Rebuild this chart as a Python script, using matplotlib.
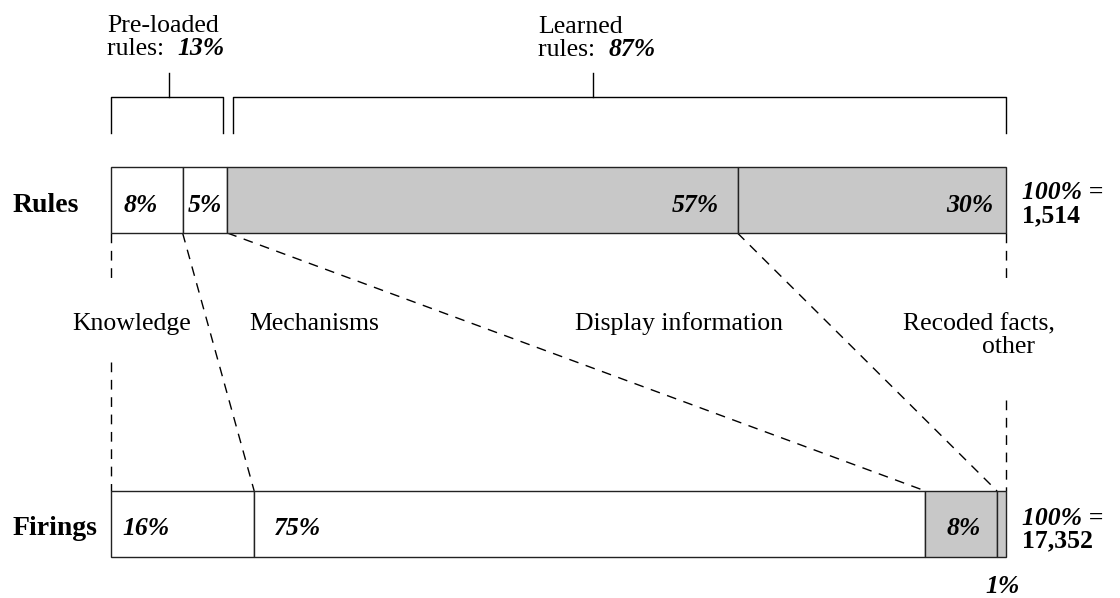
import matplotlib
matplotlib.use("Agg")
import matplotlib.pyplot as plt
import numpy as np

plt.rcParams['font.family'] = ['Liberation Serif', 'DejaVu Serif']

# data (percent shares)
rules = [8, 5, 57, 30]
firings = [16, 75, 8, 1]
rules_total = "1,514"
firings_total = "17,352"
categories = ["Knowledge", "Mechanisms", "Display information", "Recoded facts,\nother"]
seg_colors = ["white", "white", "#c8c8c8", "#c8c8c8"]
preloaded = rules[0] + rules[1]
learned = 100 - preloaded

fig = plt.figure(figsize=(11.2, 5.98), dpi=100)
ax = fig.add_axes([0, 0, 1, 1])
# x in percent of bar, y in rows from the top
ax.set_xlim(-111 / 8.95, (1120 - 111) / 8.95)
ax.set_ylim(598, 0)
ax.axis('off')

ry, fy, bh = 200, 524, 66
rl = np.concatenate([[0], np.cumsum(rules)[:-1]])
fl = np.concatenate([[0], np.cumsum(firings)[:-1]])
ax.barh(ry, rules, left=rl, height=bh, color=seg_colors, edgecolor='#222', linewidth=1, zorder=3)
ax.barh(fy, firings, left=fl, height=bh, color=seg_colors, edgecolor='#222', linewidth=1, zorder=3)

# dashed connectors between matching boundaries
rb = np.concatenate([[0], np.cumsum(rules)])
fb = np.concatenate([[0], np.cumsum(firings)])
ytop, ybot = ry + bh / 2, fy - bh / 2
dash = dict(color='black', lw=1, dashes=(7, 5.5), zorder=2)
for i, (a, b) in enumerate(zip(rb, fb)):
    if i == 0:
        ax.plot([a, a], [ytop, 285], **dash)
        ax.plot([a, a], [362, ybot], **dash)
    elif i == len(rb) - 1:
        ax.plot([a, a], [ytop, 285], **dash)
        ax.plot([a, a], [400, ybot], **dash)
    else:
        ax.plot([a, b], [ytop, ybot], **dash)

# brackets on top
def bracket(x0, x1, xs):
    ax.plot([x0, x0, x1, x1], [133, 97, 97, 133], color='black', lw=1)
    ax.plot([xs, xs], [97, 73], color='black', lw=1)

bracket(0, preloaded - 0.5, 6.5)
bracket(preloaded + 0.6, 100, 53.9)

fs = 18.5
def two_line(x, y, top, pct):
    ax.text(x, y, top, fontsize=fs, ha='left', va='baseline')
    t = ax.text(x, y + 23, "rules:  ", fontsize=fs, ha='left', va='baseline')
    ax.annotate(pct, xycoords=t, xy=(1, 0), va='bottom', ha='left',
                fontsize=fs, fontweight='bold', fontstyle='italic')

two_line(-0.45, 32, "Pre-loaded", f"{preloaded}%")
two_line(47.7, 33, "Learned", f"{learned}%")

# row labels
ax.text(-11.05, 212, "Rules", fontsize=20, fontweight='bold', va='baseline')
ax.text(-11.05, 535, "Firings", fontsize=20, fontweight='bold', va='baseline')

bi = dict(fontsize=fs, fontweight='bold', fontstyle='italic', va='baseline')
# rules percents
ax.text(rl[0] + 1.35, 212, f"{rules[0]}%", ha='left', **bi)
ax.text(rl[1] + 0.55, 212, f"{rules[1]}%", ha='left', **bi)
ax.text(rl[2] + rules[2] - 2.1, 212, f"{rules[2]}%", ha='right', **bi)
ax.text(rl[3] + rules[3] - 1.45, 212, f"{rules[3]}%", ha='right', **bi)
# firings percents
ax.text(fl[0] + 1.25, 535, f"{firings[0]}%", ha='left', **bi)
ax.text(fl[1] + 2.2, 535, f"{firings[1]}%", ha='left', **bi)
ax.text(fl[2] + firings[2] - 1.8, 535, f"{firings[2]}%", ha='right', **bi)
ax.text(fl[3] + 0.6, 593, f"{firings[3]}%", ha='center', **bi)

# totals
for y, tot, gap in [(199, rules_total, 23), (525, firings_total, 22)]:
    ax.text(101.8, y, "100% =", ha='left', **bi)
    ax.text(101.8, y + gap, tot, fontsize=fs, fontweight='bold', ha='left', va='baseline')

# category labels
ax.text(-4.35, 330, categories[0], fontsize=fs, va='baseline')
ax.text(15.5, 330, categories[1], fontsize=fs, va='baseline')
ax.text(51.8, 330, categories[2], fontsize=fs, va='baseline')
ax.text(88.5, 330, "Recoded facts,", fontsize=fs, va='baseline')
ax.text(97.3, 353, "other", fontsize=fs, va='baseline')

fig.savefig("out.png", dpi=100, facecolor='white')
